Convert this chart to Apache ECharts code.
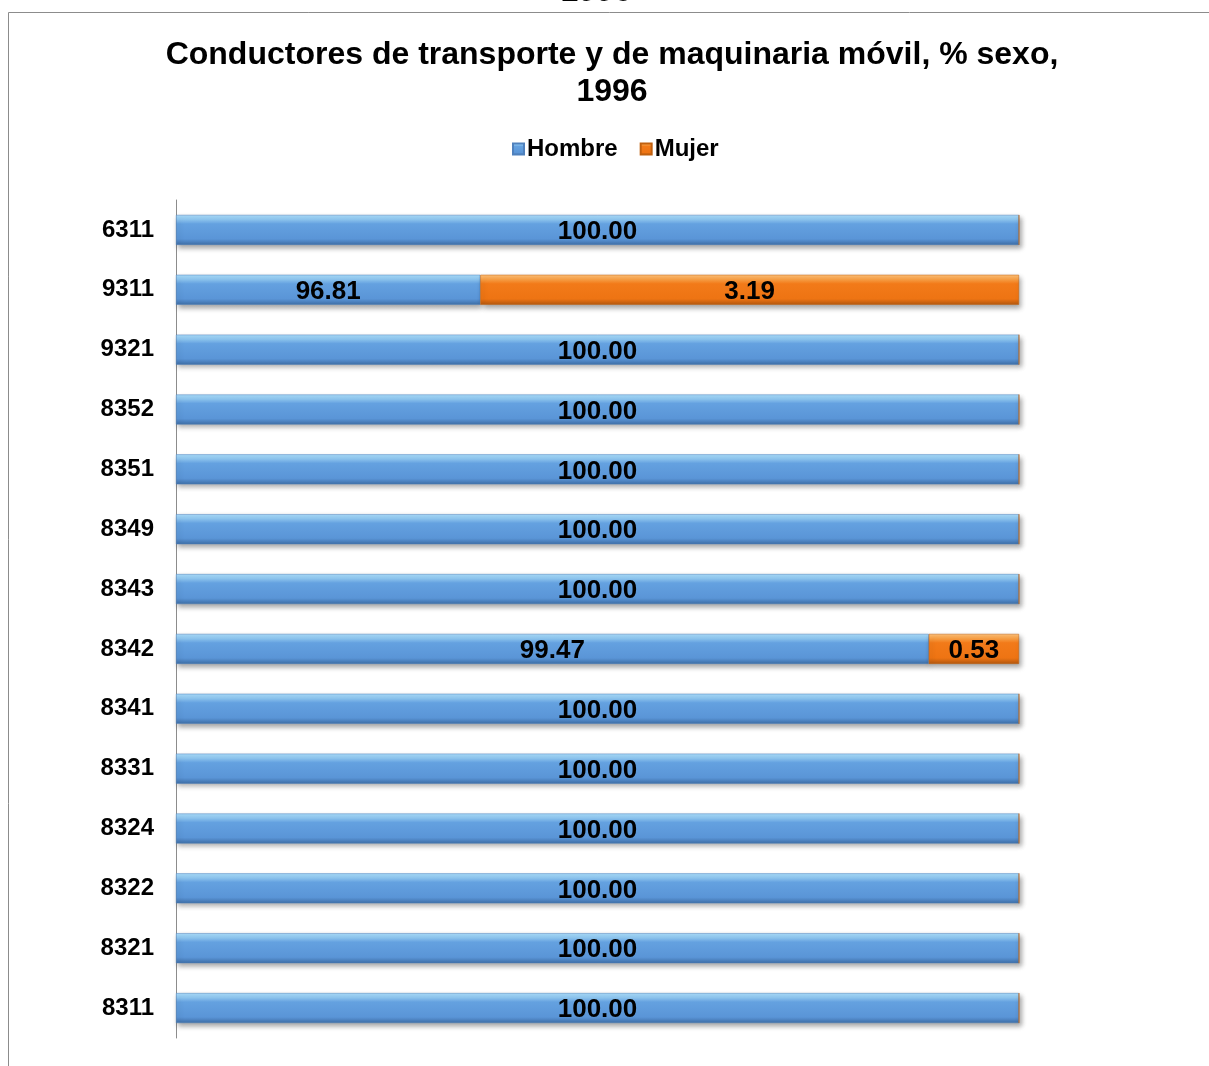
<!DOCTYPE html>
<html>
<head>
<meta charset="utf-8">
<script src="https://cdn.jsdelivr.net/npm/echarts@6/dist/echarts.min.js"></script>
<style>
  html, body { margin: 0; padding: 0; background: #fff; }
  #chart { width: 1209px; height: 1066px; }
</style>
</head>
<body>
<div id="chart"></div>
<script>
// categories, top to bottom
const categories = ['6311', '9311', '9321', '8352', '8351', '8349', '8343', '8342', '8341', '8331', '8324', '8322', '8321', '8311'];
// bar lengths as drawn (share of the full bar)
const hombreLength = [100, 36.1, 100, 100, 100, 100, 100, 89.3, 100, 100, 100, 100, 100, 100];
const mujerLength = [0, 63.9, 0, 0, 0, 0, 0, 10.7, 0, 0, 0, 0, 0, 0];
// values printed on the bars
const hombreLabels = ['100.00', '96.81', '100.00', '100.00', '100.00', '100.00', '100.00', '99.47', '100.00', '100.00', '100.00', '100.00', '100.00', '100.00'];
const mujerLabels = ['', '3.19', '', '', '', '', '', '0.53', '', '', '', '', '', ''];

const FONT = '"Liberation Sans", Arial, sans-serif';

const blueFill = new echarts.graphic.LinearGradient(0, 0, 0, 1, [
  {offset: 0, color: '#a9dcfa'},
  {offset: 0.15, color: '#90c8f2'},
  {offset: 0.3, color: '#64a1e0'},
  {offset: 0.8, color: '#5a95d7'},
  {offset: 1, color: '#3e6ea6'}
]);
const orangeFill = new echarts.graphic.LinearGradient(0, 0, 0, 1, [
  {offset: 0, color: '#ffc27a'},
  {offset: 0.15, color: '#fba247'},
  {offset: 0.3, color: '#f27a19'},
  {offset: 0.8, color: '#ee7413'},
  {offset: 1, color: '#b35810'}
]);

const chart = echarts.init(document.getElementById('chart'));

const labelStyle = {
  show: true,
  position: 'inside',
  fontFamily: FONT,
  fontSize: 26,
  fontWeight: 'bold',
  color: '#000',
  offset: [0, 2]
};

const option = {
  backgroundColor: '#fff',
  animation: false,
  title: {
    text: 'Conductores de transporte y de maquinaria móvil, % sexo,\n1996',
    left: 607,
    top: 32,
    textAlign: 'center',
    textStyle: {
      fontFamily: FONT,
      fontSize: 32,
      fontWeight: 'bold',
      color: '#000',
      lineHeight: 37
    }
  },
  legend: {
    top: 132,
    left: 507,
    itemWidth: 11,
    itemHeight: 11,
    itemGap: 22,
    icon: 'rect',
    textStyle: {fontFamily: FONT, fontSize: 24, fontWeight: 'bold', color: '#000', padding: [0, 0, 0, -2]},
    data: ['Hombre', 'Mujer']
  },
  grid: {
    left: 176,
    right: 190,
    top: 200,
    bottom: 28,
    containLabel: false
  },
  xAxis: {
    type: 'value',
    min: 0,
    max: 100,
    show: false
  },
  yAxis: {
    type: 'category',
    data: categories,
    inverse: true,
    axisLine: {show: true, lineStyle: {color: '#8c8c8c', width: 1}},
    axisTick: {show: false},
    axisLabel: {
      fontFamily: FONT,
      fontSize: 24,
      fontWeight: 'bold',
      color: '#000',
      margin: 22,
      padding: [2, 0, 0, 0]
    }
  },
  series: [
    {
      name: 'Hombre',
      type: 'bar',
      stack: 'sexo',
      barWidth: 30,
      data: hombreLength,
      itemStyle: {
        color: blueFill,
        borderColor: '#4f81bd',
        borderWidth: 0.5,
        shadowColor: 'rgba(0,0,0,0.35)',
        shadowBlur: 5,
        shadowOffsetX: 2,
        shadowOffsetY: 3
      },
      label: Object.assign({}, labelStyle, {formatter: (p) => hombreLabels[p.dataIndex]})
    },
    {
      name: 'Mujer',
      type: 'bar',
      stack: 'sexo',
      barWidth: 30,
      data: mujerLength,
      itemStyle: {
        color: orangeFill,
        borderColor: '#c0600f',
        borderWidth: 0.5,
        shadowColor: 'rgba(0,0,0,0.35)',
        shadowBlur: 5,
        shadowOffsetX: 2,
        shadowOffsetY: 3
      },
      label: Object.assign({}, labelStyle, {formatter: (p) => mujerLabels[p.dataIndex]})
    }
  ],
  graphic: [
    {
      type: 'rect',
      silent: true,
      shape: {x: 8.5, y: 12.5, width: 1300, height: 1200},
      style: {fill: 'none', stroke: '#8c8c8c', lineWidth: 1}
    },
    {
      type: 'text',
      silent: true,
      x: 596,
      y: 8,
      style: {
        text: '1996',
        fontFamily: FONT,
        fontSize: 32,
        fontWeight: 'bold',
        fill: '#000',
        align: 'center',
        verticalAlign: 'bottom'
      }
    }
  ]
};

chart.setOption(option);
</script>
</body>
</html>
